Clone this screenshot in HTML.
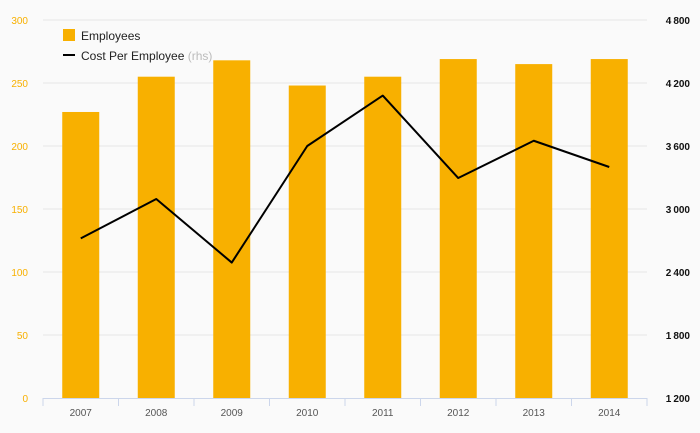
<!DOCTYPE html>
<html><head><meta charset="utf-8"><style>
body{margin:0;background:#fafafa;font-family:"Liberation Sans",sans-serif}
svg{display:block}
</style></head><body>
<svg id="chart" width="700" height="433" viewBox="0 0 700 433" xmlns="http://www.w3.org/2000/svg">
<rect width="700" height="433" fill="#fafafa"/>
<g id="grid"></g><g id="bars"></g><g id="line"></g><g id="axes"></g>
<g>
<rect x="63" y="29" width="12" height="12" fill="#f8b000"/>
<text x="81" y="40" font-size="12" fill="#222">Employees</text>
<line x1="63" y1="55" x2="75" y2="55" stroke="#000" stroke-width="2"/>
<text x="81" y="60" font-size="12" fill="#222">Cost Per Employee <tspan fill="#bbb">(rhs)</tspan></text>
</g>
</svg>
<script>
const categories=["2007","2008","2009","2010","2011","2012","2013","2014"];
const employees=[227,255,268,248,255,269,265,269];
const costPerEmployee=[2720,3095,2490,3600,4080,3295,3650,3400];
const leftTicks=[0,50,100,150,200,250,300];
const rightTicks=[1200,1800,2400,3000,3600,4200,4800];
const NS="http://www.w3.org/2000/svg";
const L=43,R=647,T=20,B=398;
const bw=(R-L)/categories.length;
const xC=i=>L+bw*(i+0.5);
const yL=v=>B-(v-0)/(300-0)*(B-T);
const yR=v=>B-(v-1200)/(4800-1200)*(B-T);
function mk(tag,attrs,parent,txt){const e=document.createElementNS(NS,tag);for(const k in attrs)e.setAttribute(k,attrs[k]);if(txt!==undefined)e.textContent=txt;document.getElementById(parent).appendChild(e);return e;}
leftTicks.forEach((v,i)=>{
 if(v>0){const g=mk("line",{x1:L,x2:R,y1:yL(v),y2:yL(v),stroke:"#e6e6e6","stroke-width":1},"grid");
 
 }
 const t=mk("text",{x:28,y:yL(v)+4,"font-size":10,fill:"#f8b000","text-anchor":"end"},"axes",v);
 
 
});
rightTicks.forEach(v=>{
 const t=mk("text",{x:690,y:yR(v)+4,"font-size":10,fill:"#111","font-weight":"bold","text-anchor":"end"},"axes",v.toLocaleString("en").replace(",","\u2009"));
 
 
});
const ax=mk("line",{x1:L,x2:R,y1:B+0.5,y2:B+0.5,stroke:"#ccd6eb"},"axes");


categories.forEach((c,i)=>{
 const tk=mk("line",{x1:L+bw*i,x2:L+bw*i,y1:B,y2:B+8,stroke:"#ccd6eb"},"axes");
 
 
 const t=mk("text",{x:xC(i),y:416,"font-size":10,fill:"#555","text-anchor":"middle"},"axes",c);
 
 
 const b=mk("rect",{x:xC(i)-18.5,y:yL(employees[i]),width:37,height:B-yL(employees[i]),fill:"#f8b000"},"bars");
 
 
});
const tk2=mk("line",{x1:R,x2:R,y1:B,y2:B+8,stroke:"#ccd6eb"},"axes");


const pts=costPerEmployee.map((v,i)=>xC(i)+","+yR(v)).join(" ");
const pl=mk("polyline",{points:pts,fill:"none",stroke:"#000","stroke-width":2,"stroke-linejoin":"round"},"line");


</script>
</body></html>
